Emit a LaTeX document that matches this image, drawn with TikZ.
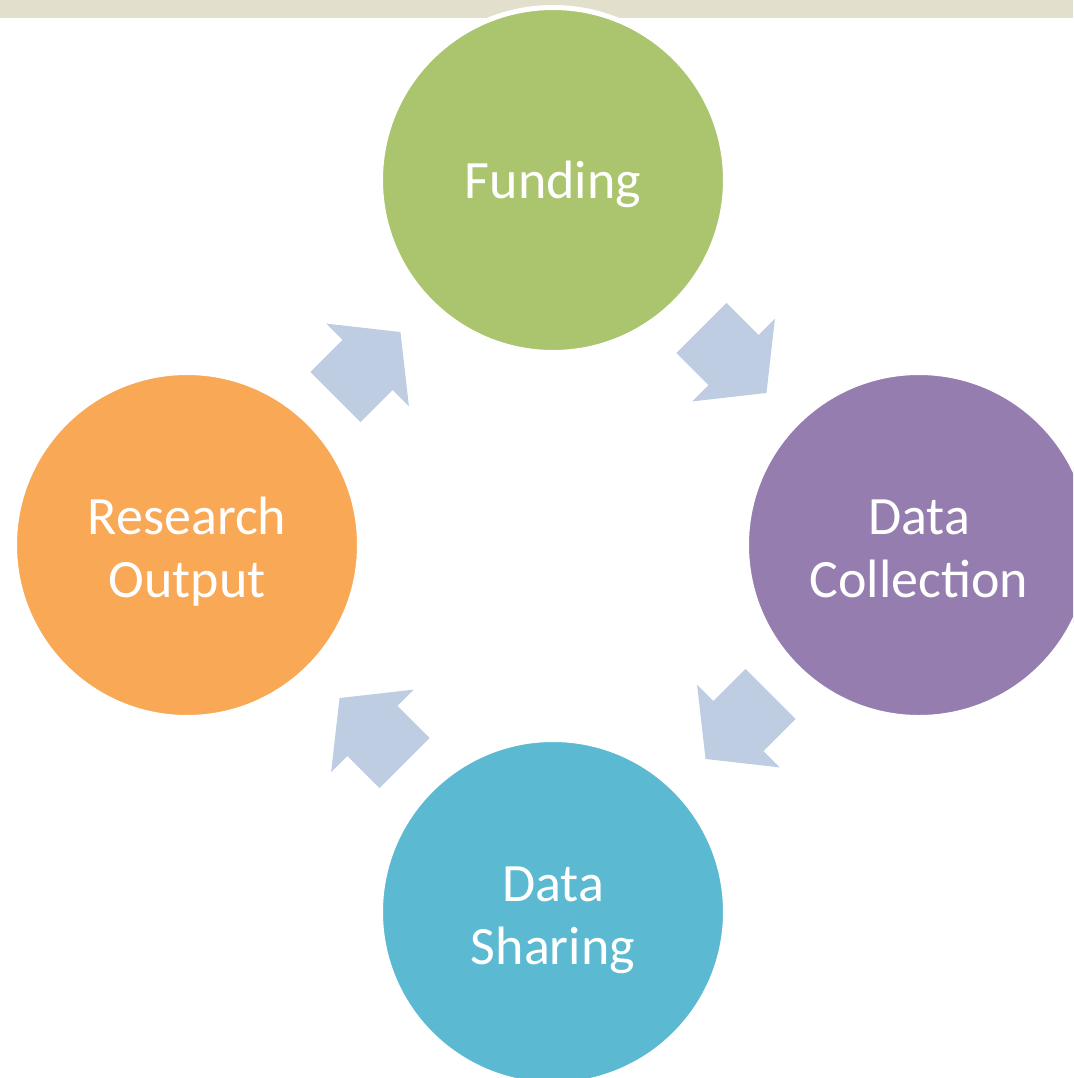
\documentclass[tikz,border=0pt]{standalone}
\usepackage{fontspec}
\setmainfont{Carlito}
\usetikzlibrary{shapes.arrows,calc}

\definecolor{barbeige}{HTML}{E2E0CC}
\definecolor{fundgreen}{HTML}{ABC56E}
\definecolor{collpurple}{HTML}{957DB0}
\definecolor{sharecyan}{HTML}{5BB9D2}
\definecolor{outorange}{HTML}{F9A856}
\definecolor{arrowblue}{HTML}{BFCDE2}

\tikzset{
	stage/.style={circle, draw=white, line width=2.5pt, minimum size=172.5pt, inner sep=0pt,
		text=white, align=center, text depth=0pt, font=\fontsize{27}{31.5}\selectfont},
	twoline/.style={text height=52pt},
	cyclearrow/.style={single arrow, fill=arrowblue, inner xsep=0pt, inner ysep=17.5pt, outer sep=0pt,
		minimum height=46pt, single arrow head extend=11.5pt, single arrow tip angle=103},
}

\begin{document}
\begin{tikzpicture}[x=0.5pt, y=-0.5pt]
		\useasboundingbox (0,0) rectangle (1073,1078);
		\clip (0,0) rectangle (1073,1078);
		\fill[barbeige] (0,0) rectangle (1073,18);

		% the four stages of the cycle
		\node[stage, fill=fundgreen] (F) at (553,180) {Funding};
		\node[stage, twoline, fill=collpurple] (C) at (919,545) {Data\\Collection};
		\node[stage, twoline, fill=sharecyan] (S) at (553,912) {Data\\Sharing};
		\node[stage, twoline, fill=outorange] (O) at (187,545) {Research\\Output};

		% block arrows half way between neighbours
		\node[cyclearrow, rotate=-45, xshift=-8.5pt] (FC) at ($(F)!0.5!(C)$) {};
		\node[cyclearrow, rotate=-135, xshift=-8.5pt] (CS) at ($(C)!0.5!(S)$) {};
		\node[cyclearrow, rotate=135, xshift=-8.5pt] (SO) at ($(S)!0.5!(O)$) {};
		\node[cyclearrow, rotate=45, xshift=-8.5pt] (OF) at ($(O)!0.5!(F)$) {};
	\end{tikzpicture}
\end{document}
